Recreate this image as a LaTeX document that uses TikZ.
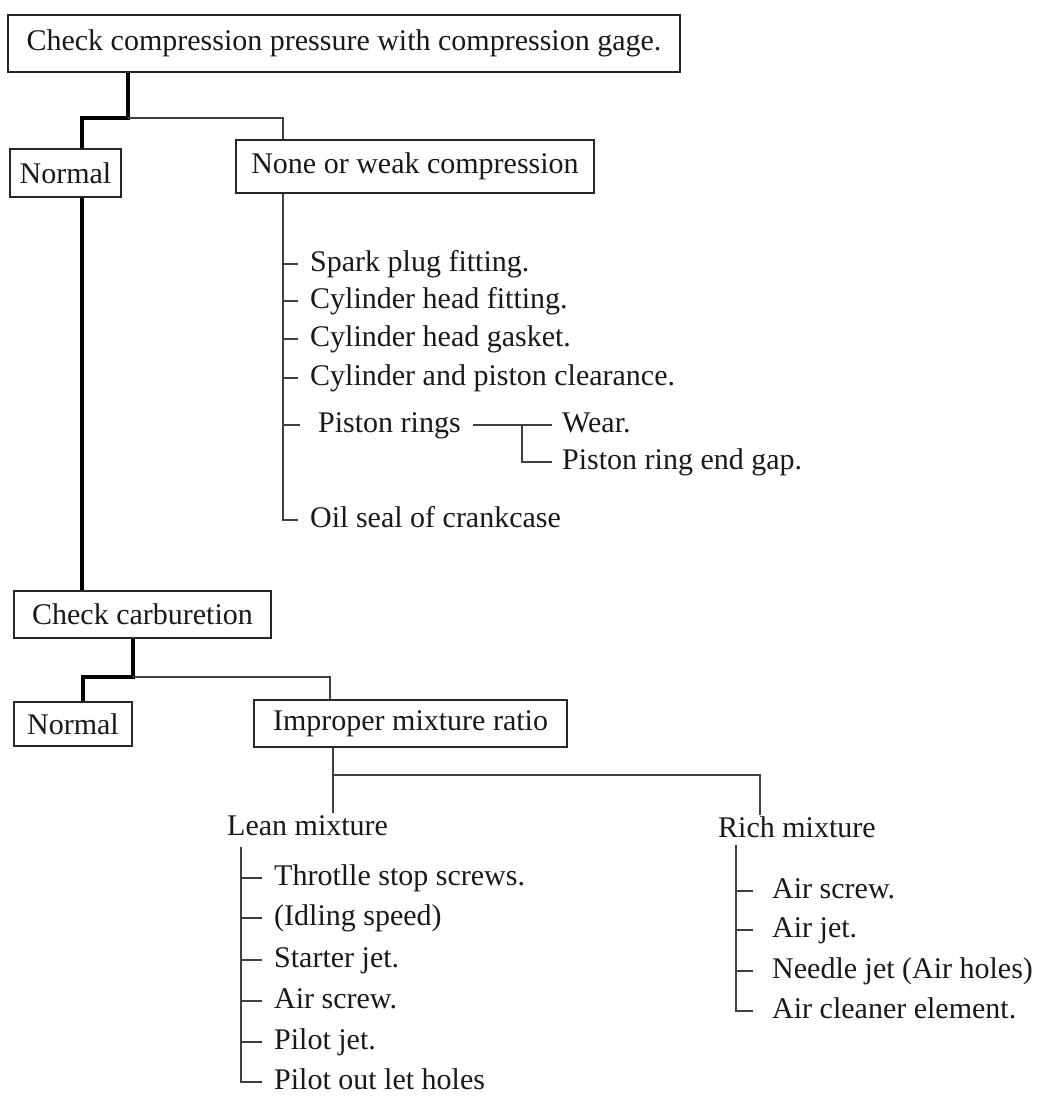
\documentclass[tikz,border=0pt]{standalone}
\usepackage{fontspec}
\setmainfont{Liberation Serif}
\begin{document}
\begin{tikzpicture}[x=1pt,y=-1pt,
  font=\fontsize{30}{36}\selectfont,
  box/.style={draw=black!85, line width=1.2pt, inner sep=0pt, text=black!90},
  item/.style={anchor=west, text height=14pt, text depth=0pt, inner ysep=0pt,
    inner xsep=12pt, text=black!90},
  heading/.style={anchor=west, text height=22pt, text depth=0pt, inner sep=0pt,
    text=black!90},
  link/.style={draw=black!75, line width=1.1pt},
  trunk/.style={draw=black, line width=3.2pt, line join=miter},
]
\useasboundingbox (0,0) rectangle (1040,1099);

% --- compression check ---
\node[box, minimum width=672pt, minimum height=57pt] (top) at (344,43.5)
  {Check compression pressure with compression gage.};
\node[box, minimum width=111pt, minimum height=48pt] (nrm1) at (65.5,173) {Normal};
\node[box, minimum width=358pt, minimum height=53pt] (none) at (415,166.5)
  {None or weak compression};

\coordinate (j1) at (128,118);
\coordinate (j1L) at (82,118);
\coordinate (cN) at (283,118);
\draw[trunk] (top.south -| j1) -- (j1) -- (j1L) -- (nrm1.north -| j1L);
\draw[link] (j1) -- (cN) -- (none.north -| cN);

% causes of weak compression
\node[item] (s1) at (298,264) {Spark plug fitting.};
\node[item] (s2) at (298,301) {Cylinder head fitting.};
\node[item] (s3) at (298,339) {Cylinder head gasket.};
\node[item] (s4) at (298,378) {Cylinder and piston clearance.};
\node[item, inner xsep=18pt] (s5) at (300,425) {Piston rings};
\node[item] (s6) at (298,520) {Oil seal of crankcase};
\draw[link] (none.south -| cN) |- (s6.west);
\foreach \n in {s1,s2,s3,s4,s5}
  \draw[link] (cN |- \n.west) -- (\n.west);

% piston ring details
\node[item, inner xsep=10pt] (w1) at (552,425) {Wear.};
\node[item, inner xsep=10pt] (w2) at (552,462) {Piston ring end gap.};
\coordinate (pj) at (522,425);
\draw[link] ([xshift=-6pt]s5.east) -- (w1.west);
\draw[link] (pj) |- (w2.west);

% --- carburetion check ---
\node[box, minimum width=257pt, minimum height=47pt] (carb) at (142.5,614.5)
  {Check carburetion};
\draw[trunk] (nrm1.south -| j1L) -- (carb.north -| j1L);

\node[box, minimum width=118pt, minimum height=44pt] (nrm2) at (73,724) {Normal};
\node[box, minimum width=313pt, minimum height=47pt] (impr) at (410.5,723.5)
  {Improper mixture ratio};

\coordinate (j2) at (133,677);
\coordinate (j2L) at (83,677);
\coordinate (cI) at (330,677);
\draw[trunk] (carb.south -| j2) -- (j2) -- (j2L) -- (nrm2.north -| j2L);
\draw[link] (j2) -- (cI) -- (impr.north -| cI);

% lean / rich split
\node[heading] (lean) at (227,824) {Lean mixture};
\node[heading] (rich) at (718,826) {Rich mixture};
\coordinate (cS) at (333,775);
\coordinate (cR) at (760,775);
\draw[link] (impr.south -| cS) -- (lean.north -| cS);
\draw[link] (cS) -- (cR) -- (rich.north -| cR);

% lean mixture causes
\coordinate (lv) at (241,847);
\node[item] (l1) at (262,878) {Throtlle stop screws.};
\node[item] (l2) at (262,918) {(Idling speed)};
\node[item] (l3) at (262,960) {Starter jet.};
\node[item] (l4) at (262,1001) {Air screw.};
\node[item] (l5) at (262,1042) {Pilot jet.};
\node[item] (l6) at (262,1082) {Pilot out let holes};
\draw[link] (lv) |- (l6.west);
\foreach \n in {l1,l2,l3,l4,l5}
  \draw[link] (lv |- \n.west) -- (\n.west);

% rich mixture causes
\coordinate (rv) at (736,845);
\node[item, inner xsep=19pt] (r1) at (753,891) {Air screw.};
\node[item, inner xsep=19pt] (r2) at (753,930) {Air jet.};
\node[item, inner xsep=19pt] (r3) at (753,971) {Needle jet (Air holes)};
\node[item, inner xsep=19pt] (r4) at (753,1011) {Air cleaner element.};
\draw[link] (rv) |- (r4.west);
\foreach \n in {r1,r2,r3}
  \draw[link] (rv |- \n.west) -- (\n.west);
\end{tikzpicture}
\end{document}
